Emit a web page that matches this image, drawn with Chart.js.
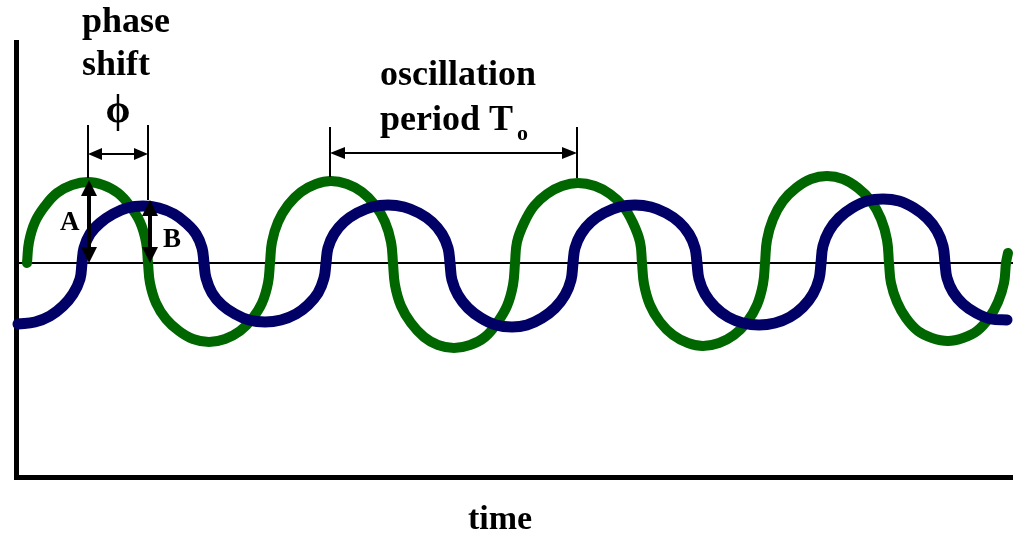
<!DOCTYPE html>
<html>
<head>
<meta charset="utf-8">
<title>phase shift</title>
<script src="https://cdn.jsdelivr.net/npm/chart.js@4.4.1/dist/chart.umd.min.js"></script>
<style>
  html, body { margin: 0; padding: 0; background: #fff; }
  canvas { display: block; }
</style>
</head>
<body>
<canvas id="waveChart" width="1013" height="533"></canvas>
<script>
// time axis runs 16..1013, signal is measured from the baseline (+ up)
// one line per half wave
const greenTime = [
  27, 29, 35, 45, 57, 72, 88, 103, 118, 130, 140, 146,
  148, 150, 156, 166, 179, 193, 209, 225, 240, 252, 262, 268,
  270, 272, 278, 288, 301, 316, 331, 347, 362, 375, 385, 391,
  393, 395, 401, 411, 424, 438, 454, 470, 485, 497, 507, 513,
  515, 517, 524, 534, 547, 562, 578, 595, 610, 623, 633, 640,
  642, 644, 650, 660, 673, 688, 703, 719, 734, 747, 757, 763,
  765, 767, 773, 783, 796, 811, 827, 843, 858, 871, 881, 887,
  889, 891, 897, 906, 918, 932, 948, 963, 977, 989, 998, 1004,
  1006, 1008];
const greenSignal = [
  0, 21, 41, 57, 70, 78, 81, 78, 70, 57, 41, 21,
  0, -20, -40, -56, -68, -76, -79, -76, -68, -56, -40, -20,
  0, 21, 41, 58, 71, 79, 82, 79, 71, 58, 41, 21,
  0, -22, -43, -60, -74, -82, -85, -82, -74, -60, -43, -22,
  0, 21, 40, 57, 69, 77, 80, 77, 69, 57, 40, 21,
  0, -21, -42, -59, -72, -80, -83, -80, -72, -59, -42, -21,
  0, 23, 44, 62, 75, 84, 87, 84, 75, 62, 44, 23,
  0, -20, -39, -55, -68, -75, -78, -75, -68, -55, -39, -20,
  0, 10];

const blueTime = [
  18, 35, 50, 63, 73, 80,
  82, 84, 90, 100, 113, 127, 143, 159, 174, 186, 196, 202,
  204, 206, 212, 222, 235, 249, 265, 281, 296, 308, 318, 324,
  326, 328, 334, 344, 357, 372, 388, 404, 419, 432, 442, 448,
  450, 452, 458, 468, 481, 496, 512, 527, 542, 555, 565, 571,
  573, 575, 581, 591, 604, 619, 635, 651, 666, 679, 689, 695,
  697, 699, 705, 715, 728, 743, 759, 775, 790, 803, 813, 819,
  821, 823, 829, 839, 852, 867, 883, 899, 914, 927, 937, 943,
  945, 947, 953, 963, 976, 991, 1007];
const blueSignal = [
  -61, -59, -53, -43, -31, -16,
  0, 15, 29, 40, 49, 55, 57, 55, 49, 40, 29, 15,
  0, -15, -30, -42, -51, -57, -59, -57, -51, -42, -30, -15,
  0, 15, 29, 41, 50, 56, 58, 56, 50, 41, 29, 15,
  0, -17, -32, -45, -55, -62, -64, -62, -55, -45, -32, -17,
  0, 15, 29, 41, 50, 56, 58, 56, 50, 41, 29, 15,
  0, -16, -31, -44, -54, -60, -62, -60, -54, -44, -31, -16,
  0, 17, 32, 45, 55, 62, 64, 62, 55, 45, 32, 17,
  0, -15, -29, -41, -50, -56, -57];

// annotation values
const phaseX = [88, 148];          // green peak vs blue peak
const phaseMarkBottom = [85, 63];
const phaseMarkTop = 138;
const phaseArrowY = 109;
const periodX = [330, 577];        // two green peaks
const periodMarkBottom = [86, 85];
const periodMarkTop = 136;
const periodArrowY = 110;
const ampX = [89, 150];
const ampTop = [83, 63];
const ampLabels = ['A', 'B'];

const serif = '"Liberation Serif", "Times New Roman", "DejaVu Serif", serif';

function toPoints(xs, ys) {
  return xs.map((x, i) => ({ x: x, y: ys[i] }));
}

function arrowHead(ctx, x, y, dx, dy, len, half) {
  ctx.beginPath();
  ctx.moveTo(x, y);
  ctx.lineTo(x - dx * len - dy * half, y - dy * len + dx * half);
  ctx.lineTo(x - dx * len + dy * half, y - dy * len - dx * half);
  ctx.closePath();
  ctx.fill();
}

function doubleArrow(ctx, x1, y1, x2, y2, width, len, half) {
  const d = Math.hypot(x2 - x1, y2 - y1);
  const dx = (x2 - x1) / d, dy = (y2 - y1) / d;
  ctx.lineWidth = width;
  ctx.beginPath();
  ctx.moveTo(x1 + dx * len * 0.5, y1 + dy * len * 0.5);
  ctx.lineTo(x2 - dx * len * 0.5, y2 - dy * len * 0.5);
  ctx.stroke();
  arrowHead(ctx, x2, y2, dx, dy, len, half);
  arrowHead(ctx, x1, y1, -dx, -dy, len, half);
}

function vline(ctx, x, y1, y2, width) {
  ctx.lineWidth = width;
  ctx.beginPath();
  ctx.moveTo(x, y1);
  ctx.lineTo(x, y2);
  ctx.stroke();
}

function text(ctx, str, x, y, font, align) {
  ctx.font = font;
  ctx.textAlign = align || 'left';
  ctx.textBaseline = 'alphabetic';
  ctx.fillText(str, x, y);
}

// arrows + labels on top of the waves
const annotations = {
  id: 'annotations',
  afterDatasetsDraw(chart) {
    const ctx = chart.ctx;
    const px = v => chart.scales.x.getPixelForValue(v);
    const py = v => chart.scales.y.getPixelForValue(v);
    ctx.save();
    ctx.strokeStyle = '#000';
    ctx.fillStyle = '#000';

    // phase shift
    phaseX.forEach((x, i) => vline(ctx, px(x), py(phaseMarkTop), py(phaseMarkBottom[i]), 2));
    doubleArrow(ctx, px(phaseX[0]), py(phaseArrowY), px(phaseX[1]), py(phaseArrowY), 2, 14, 6);

    // oscillation period
    periodX.forEach((x, i) => vline(ctx, px(x), py(periodMarkTop), py(periodMarkBottom[i]), 2));
    doubleArrow(ctx, px(periodX[0]), py(periodArrowY), px(periodX[1]), py(periodArrowY), 2, 15, 6);

    // amplitudes A and B
    ampX.forEach((x, i) => {
      doubleArrow(ctx, px(x), py(0), px(x), py(ampTop[i]), 4, 16, 8);
    });

    const big = 'bold 36px ' + serif;
    text(ctx, 'phase', px(82), py(231), big);
    text(ctx, 'shift', px(82), py(188), big);
    text(ctx, '\u03D5', px(118), py(141), 'bold 40px ' + serif, 'center');
    text(ctx, 'oscillation', px(380), py(178), big);
    text(ctx, 'period T', px(380), py(133), big);
    text(ctx, 'o', px(517), py(123), 'bold 22px ' + serif);
    text(ctx, ampLabels[0], px(60), py(33), 'bold 27px ' + serif);
    text(ctx, ampLabels[1], px(163), py(16), 'bold 27px ' + serif);
    text(ctx, 'time', px(500), py(-266), 'bold 34px ' + serif, 'center');
    ctx.restore();
  }
};

const ctx = document.getElementById('waveChart').getContext('2d');
const chart = new Chart(ctx, {
  type: 'line',
  data: {
    datasets: [
      {
        label: 'reference',
        data: toPoints(blueTime, blueSignal),
        borderColor: '#000066',
        borderWidth: 11,
        order: 0
      },
      {
        label: 'signal',
        data: toPoints(greenTime, greenSignal),
        borderColor: '#006600',
        borderWidth: 10,
        order: 1
      },
      {
        label: 'baseline',
        data: [{ x: 16, y: 0 }, { x: 1013, y: 0 }],
        borderColor: '#000',
        borderWidth: 2,
        tension: 0,
        order: 2
      }
    ]
  },
  options: {
    responsive: false,
    animation: false,
    devicePixelRatio: 1,
    layout: { padding: { left: 16, top: 42, right: 0, bottom: 56 } },
    datasets: {
      line: {
        pointRadius: 0,
        fill: false,
        clip: false,
        tension: 0.4,
        borderCapStyle: 'round',
        borderJoinStyle: 'round'
      }
    },
    scales: {
      x: {
        type: 'linear',
        min: 16,
        max: 1013,
        grid: { display: false, drawTicks: false },
        ticks: { display: false },
        border: { display: true, color: '#000', width: 5 }
      },
      y: {
        type: 'linear',
        min: -214,
        max: 221,
        grid: { display: false, drawTicks: false },
        ticks: { display: false },
        border: { display: true, color: '#000', width: 5 }
      }
    },
    plugins: {
      legend: { display: false },
      tooltip: { enabled: false }
    }
  },
  plugins: [annotations]
});
</script>
</body>
</html>
